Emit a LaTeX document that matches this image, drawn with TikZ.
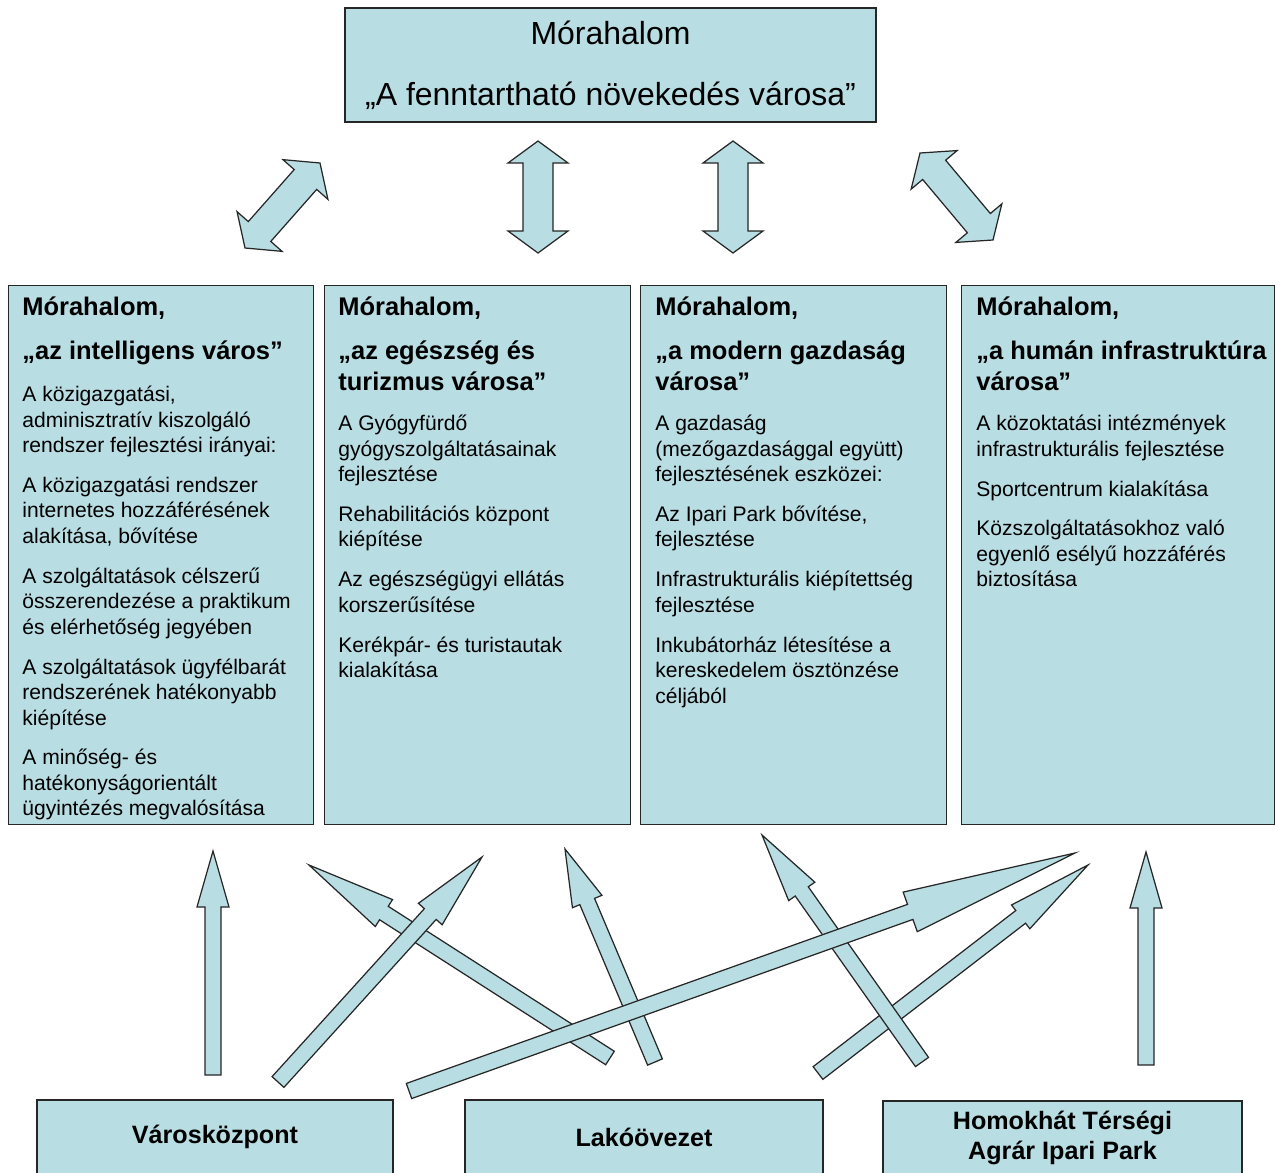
\documentclass[tikz,border=0pt]{standalone}
\usepackage{fontspec}
\setmainfont{Liberation Sans}
\usetikzlibrary{calc}
\definecolor{boxblue}{RGB}{184,221,226}
\def\pxu{0.02cm}
\newcommand{\ttl}[1]{{\bfseries\fontsize{14.5}{14.5}\selectfont #1}}
% block arrow: tail, tip, shaft half width, head half width, head length
\newcommand{\onearrow}[5]{%
  \coordinate (#1h) at ($(#2)!#5*\pxu!(#1)$);
  \draw[blockarrow] ($(#1)!#3*\pxu!90:(#2)$) -- ($(#1h)!#3*\pxu!90:(#2)$) -- ($(#1h)!#4*\pxu!90:(#2)$) -- (#2)
    -- ($(#1h)!#4*\pxu!-90:(#2)$) -- ($(#1h)!#3*\pxu!-90:(#2)$) -- ($(#1)!#3*\pxu!-90:(#2)$) -- cycle;}
% double block arrow: end, end, shaft half width, head half width, head length
\newcommand{\twoarrow}[5]{%
  \coordinate (#1h) at ($(#1)!#5*\pxu!(#2)$);
  \coordinate (#2h) at ($(#2)!#5*\pxu!(#1)$);
  \draw[blockarrow] (#1) -- ($(#1h)!#4*\pxu!90:(#2)$) -- ($(#1h)!#3*\pxu!90:(#2)$) -- ($(#2h)!#3*\pxu!-90:(#1)$)
    -- ($(#2h)!#4*\pxu!-90:(#1)$) -- (#2) -- ($(#2h)!#4*\pxu!90:(#1)$) -- ($(#2h)!#3*\pxu!90:(#1)$)
    -- ($(#1h)!#3*\pxu!-90:(#2)$) -- ($(#1h)!#4*\pxu!-90:(#2)$) -- cycle;}
\begin{document}
\begin{tikzpicture}[x=0.02cm, y=-0.02cm,
	box/.style={draw=black!85, fill=boxblue, line width=0.6pt, inner sep=0pt},
	blockarrow/.style={draw=black!85, fill=boxblue, line width=0.7pt, line join=miter},
	coltext/.style={anchor=north west, align=left, inner sep=0pt, font=\fontsize{12}{14.5}\selectfont}]
	\useasboundingbox (0,0) rectangle (1276,1173);
	\fill[white] (0,0) rectangle (1276,1173);
	% top box
	\node[box, minimum width=531*\pxu, minimum height=114*\pxu, align=center, font=\fontsize{18.2}{34.6}\selectfont] (top) at (610.5,65) {Mórahalom\\„A fenntartható növekedés városa”};
	% columns
	\node[box, anchor=north west, minimum width=305*\pxu, minimum height=539*\pxu] (c1) at (8,285) {};
	\node[box, anchor=north west, minimum width=306*\pxu, minimum height=539*\pxu] (c2) at (324,285) {};
	\node[box, anchor=north west, minimum width=306*\pxu, minimum height=539*\pxu] (c3) at (640,285) {};
	\node[box, anchor=north west, minimum width=313*\pxu, minimum height=539*\pxu] (c4) at (961,285) {};
	\node[coltext] (t1) at (22,296) {\ttl{Mórahalom,}\\[11pt]\ttl{„az intelligens város”}\\[9.3pt]A közigazgatási,\\adminisztratív kiszolgáló\\rendszer fejlesztési irányai:\\[8.2pt]A közigazgatási rendszer\\internetes hozzáférésének\\alakítása, bővítése\\[8.2pt]A szolgáltatások célszerű\\összerendezése a praktikum\\és elérhetőség jegyében\\[8.2pt]A szolgáltatások ügyfélbarát\\rendszerének hatékonyabb\\kiépítése\\[8.2pt]A minőség- és\\hatékonyságorientált\\ügyintézés megvalósítása};
	\node[coltext] (t2) at (338,296) {\ttl{Mórahalom,}\\[11pt]\ttl{„az egészség és}\\[3.1pt]\ttl{turizmus városa”}\\[8.2pt]A Gyógyfürdő\\gyógyszolgáltatásainak\\fejlesztése\\[8.2pt]Rehabilitációs központ\\kiépítése\\[8.2pt]Az egészségügyi ellátás\\korszerűsítése\\[8.2pt]Kerékpár- és turistautak\\kialakítása};
	\node[coltext] (t3) at (655,296) {\ttl{Mórahalom,}\\[11pt]\ttl{„a modern gazdaság}\\[3.1pt]\ttl{városa”}\\[8.2pt]A gazdaság\\(mezőgazdasággal együtt)\\fejlesztésének eszközei:\\[8.2pt]Az Ipari Park bővítése,\\fejlesztése\\[8.2pt]Infrastrukturális kiépítettség\\fejlesztése\\[8.2pt]Inkubátorház létesítése a\\kereskedelem ösztönzése\\céljából};
	\node[coltext] (t4) at (976,296) {\ttl{Mórahalom,}\\[11pt]\ttl{„a humán infrastruktúra}\\[3.1pt]\ttl{városa”}\\[8.2pt]A közoktatási intézmények\\infrastrukturális fejlesztése\\[8.2pt]Sportcentrum kialakítása\\[8.2pt]Közszolgáltatásokhoz való\\egyenlő esélyű hozzáférés\\biztosítása};
	% bottom boxes
	\node[box, minimum width=356*\pxu, minimum height=74*\pxu, font=\bfseries\fontsize{14.3}{16.6}\selectfont] (b1) at (215,1137) {Városközpont};
	\node[box, minimum width=358*\pxu, minimum height=74*\pxu, font=\bfseries\fontsize{14.3}{16.6}\selectfont] (b2) at (644,1137) {Lakóövezet};
	\node[box, minimum width=359*\pxu, minimum height=74*\pxu, align=center, font=\bfseries\fontsize{14.3}{16.6}\selectfont] (b3) at (1062.5,1138) {Homokhát Térségi\\Agrár Ipari Park};
	% arrows between top and columns
	\coordinate (d1a) at (245,248); \coordinate (d1b) at (320,163);
	\coordinate (d2a) at (538,141); \coordinate (d2b) at (538,253);
	\coordinate (d3a) at (733,141); \coordinate (d3b) at (733,253);
	\coordinate (d4a) at (920,153); \coordinate (d4b) at (993,240);
	\twoarrow{d1a}{d1b}{15}{30}{22}
	\twoarrow{d2a}{d2b}{15}{30}{22}
	\twoarrow{d3a}{d3b}{15}{30}{22}
	\twoarrow{d4a}{d4b}{15}{30}{22}
	% arrows from the bottom boxes
	\coordinate (v1s) at (213,1075); \coordinate (v1e) at (213,851);
	\coordinate (a2s) at (278,1082); \coordinate (a2e) at (482,857);
	\coordinate (a3s) at (610,1058); \coordinate (a3e) at (309,865);
	\coordinate (a4s) at (655,1062); \coordinate (a4e) at (565,849);
	\coordinate (a5s) at (409,1091); \coordinate (a5e) at (1075,853);
	\coordinate (a6s) at (922,1062); \coordinate (a6e) at (762,835);
	\coordinate (a7s) at (818,1073); \coordinate (a7e) at (1088,865);
	\coordinate (v8s) at (1146,1065); \coordinate (v8e) at (1146,852);
	\onearrow{v1s}{v1e}{8}{16}{56}
	\onearrow{v8s}{v8e}{8}{16}{56}
	\onearrow{a3s}{a3e}{8}{16}{89}
	\onearrow{a2s}{a2e}{8}{16}{77}
	\onearrow{a4s}{a4e}{8}{16}{57}
	\onearrow{a7s}{a7e}{8}{15}{85}
	\onearrow{a6s}{a6e}{8}{16}{69}
	\onearrow{a5s}{a5e}{8}{21}{175}
\end{tikzpicture}
\end{document}
